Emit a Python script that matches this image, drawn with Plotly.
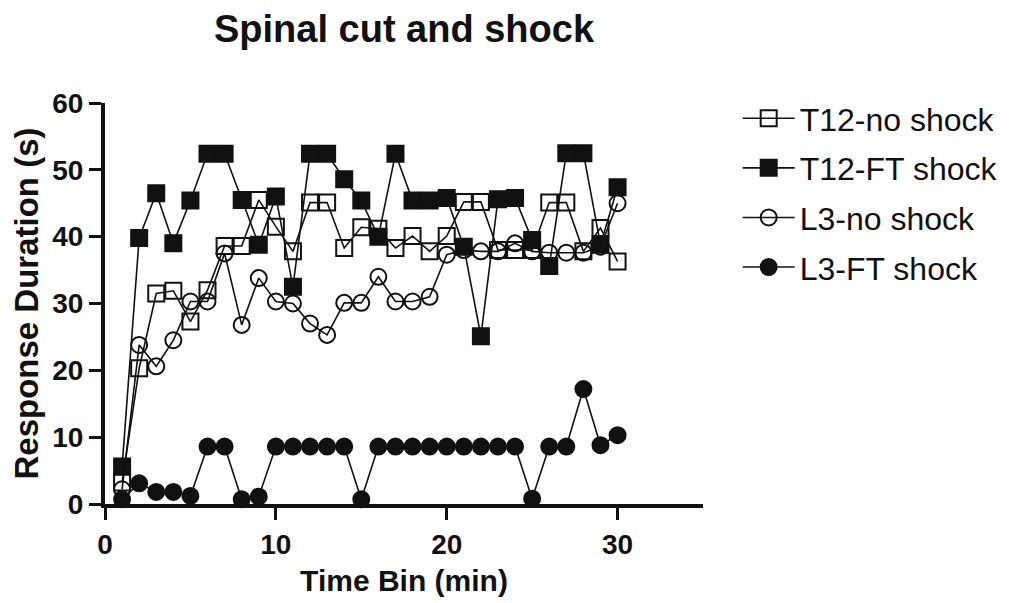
import plotly.graph_objects as go

# Time bins (min)
time_bin = list(range(1, 31))

# Response duration (s) per group
t12_no_shock = [3.2, 20.3, 31.5, 31.9, 27.3, 32.0, 38.6, 38.6, 45.5, 41.5,
                37.8, 45.1, 45.1, 38.3, 41.4, 41.2, 38.3, 40.1, 37.8, 40.1,
                45.2, 45.2, 38.0, 38.0, 38.0, 45.1, 45.1, 37.8, 41.3, 36.3]
t12_ft_shock = [5.6, 39.8, 46.5, 39.0, 45.4, 52.4, 52.4, 45.5, 38.8, 46.0,
                32.5, 52.4, 52.4, 48.6, 45.4, 40.0, 52.4, 45.4, 45.4, 45.8,
                38.5, 25.1, 45.6, 45.8, 39.5, 35.6, 52.5, 52.5, 38.8, 47.4]
l3_no_shock = [2.2, 23.8, 20.6, 24.5, 30.3, 30.3, 37.5, 26.8, 33.8, 30.3,
               30.0, 27.0, 25.3, 30.1, 30.1, 34.0, 30.3, 30.3, 31.0, 37.3,
               38.0, 37.8, 37.8, 39.0, 37.8, 37.6, 37.6, 37.6, 38.5, 45.0]
l3_ft_shock = [0.7, 3.1, 1.8, 1.8, 1.2, 8.6, 8.6, 0.7, 1.1, 8.6,
               8.6, 8.6, 8.6, 8.6, 0.7, 8.6, 8.6, 8.6, 8.6, 8.6,
               8.6, 8.6, 8.6, 8.6, 0.8, 8.6, 8.6, 17.2, 8.8, 10.3]

series = [
    ("T12-no shock", t12_no_shock, "square-open"),
    ("T12-FT shock", t12_ft_shock, "square"),
    ("L3-no shock", l3_no_shock, "circle-open"),
    ("L3-FT shock", l3_ft_shock, "circle"),
]

FONT = "Liberation Sans, Arial, sans-serif"
INK = "#111111"

fig = go.Figure()
for name, values, symbol in series:
    fig.add_trace(go.Scatter(
        x=time_bin, y=values, name=name, legendgroup=name,
        mode="lines+markers",
        line=dict(color=INK, width=1.6),
        marker=dict(symbol=symbol, size=16, color=INK,
                    line=dict(color=INK, width=2)),
        cliponaxis=False,
    ))

fig.update_layout(
    width=1016, height=603,
    margin=dict(l=105, r=313, t=103, b=99),
    paper_bgcolor="white", plot_bgcolor="white",
    title=dict(text="<b>Spinal cut and shock</b>", x=0.5, xref="paper",
               y=0.952, yref="container", yanchor="middle",
               font=dict(family=FONT, size=38, color=INK)),
    legend=dict(x=1.058, y=1.03, xanchor="left", yanchor="top",
                font=dict(family=FONT, size=32, color=INK),
                tracegroupgap=5, itemwidth=52, bgcolor="rgba(0,0,0,0)"),
    showlegend=True,
)

fig.update_xaxes(
    range=[0, 35], tickvals=[0, 10, 20, 30], ticktext=["0", "10", "20", "30"],
    showline=True, linewidth=4, linecolor=INK,
    ticks="outside", ticklen=12, tickwidth=3, tickcolor=INK,
    showgrid=False, zeroline=False, automargin=False,
    tickfont=dict(family=FONT, size=28, color=INK, weight="bold"),
    title=dict(text="<b>Time Bin (min)</b>", standoff=12,
               font=dict(family=FONT, size=30, color=INK)),
)
fig.update_yaxes(
    range=[0, 60], tickvals=[0, 10, 20, 30, 40, 50, 60],
    showline=True, linewidth=4, linecolor=INK,
    ticks="outside", ticklen=12, tickwidth=3, tickcolor=INK,
    showgrid=False, zeroline=False, automargin=False,
    tickfont=dict(family=FONT, size=28, color=INK, weight="bold"),
    title=dict(text="<b>Response Duration (s)</b>", standoff=5,
               font=dict(family=FONT, size=33, color=INK)),
)

fig.write_html("out.html")
